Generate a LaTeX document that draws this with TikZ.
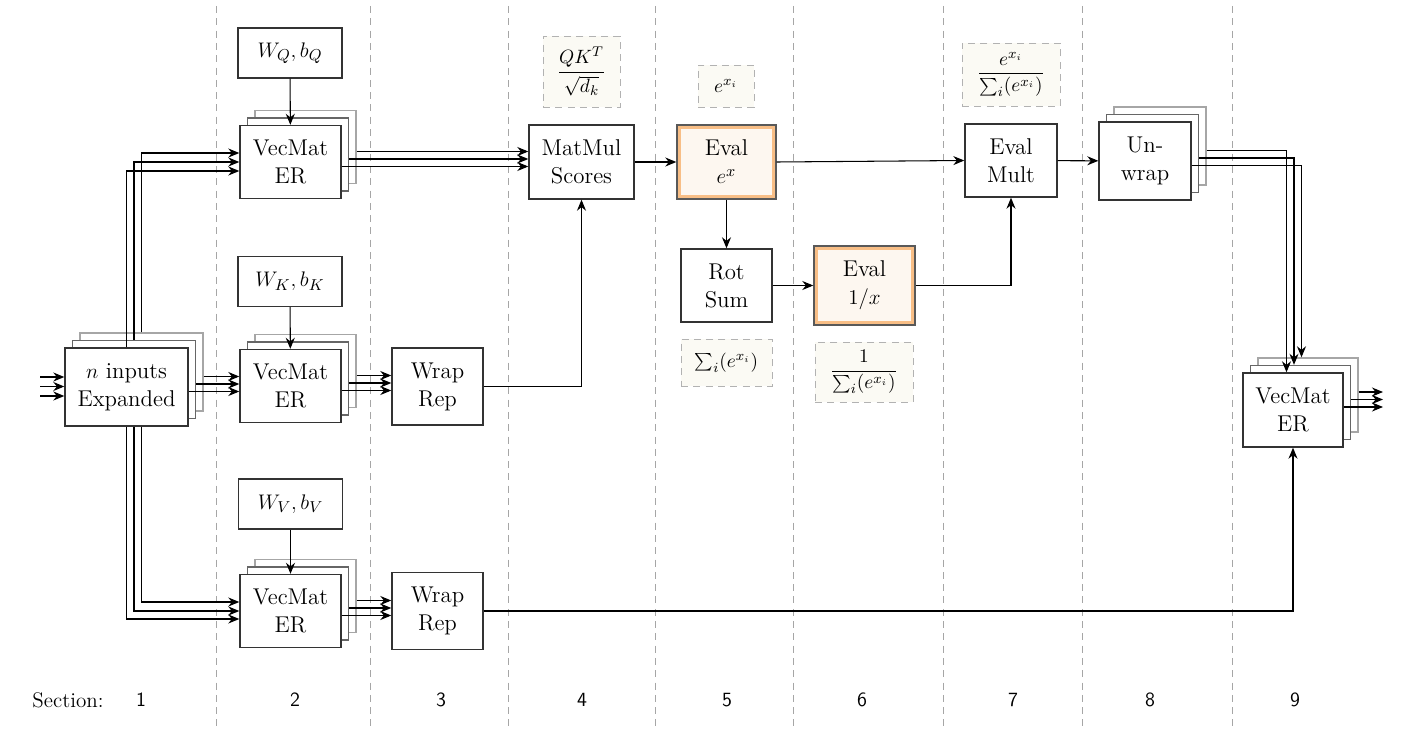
\documentclass[tikz,border=0pt]{standalone}
\usepackage{tikz}
\usetikzlibrary{calc,arrows.meta}
\definecolor{notefill}{HTML}{FBFAF4}
\definecolor{evalfill}{HTML}{FDF7F0}
\definecolor{evalring}{HTML}{F8BE86}
\tikzset{
	blk/.style={draw=black!80, fill=white, line width=0.8pt, align=center, inner sep=0pt, font=\fontsize{13}{16}\selectfont},
	note/.style={draw=black!30, dash pattern=on 4pt off 3pt, fill=notefill, inner sep=0pt, font=\fontsize{11}{13}\selectfont},
	evalblk/.style={blk, fill=evalfill, draw=black!65, path picture={\draw[evalring, line width=4pt] (path picture bounding box.south west) rectangle (path picture bounding box.north east);}},
	wire/.style={line width=0.6pt, -{Stealth[length=2.2mm,width=1.8mm]}},
	sep/.style={black!35, dash pattern=on 4pt off 3pt},
}
\def\stackbox(#1)(#2)#3#4{%
	\node[blk, draw=black!35, #3] (#1-3) at ($(#2)+(0.3,0.3)$) {};
	\node[blk, draw=black!60, #3] (#1-2) at ($(#2)+(0.15,0.15)$) {};
	\node[blk, #3] (#1) at (#2) {#4};
}

\begin{document}
\begin{tikzpicture}
		%%%%% START %%%%%
		\useasboundingbox (0,0) rectangle (28.42,-15.04);
		
		\foreach \x in {4.32,7.40,10.16,13.10,15.86,18.86,21.64,24.64}
			\draw[sep] (\x,-0.12) -- (\x,-14.52);
		
		% section row
		\node[font=\fontsize{12}{14}\selectfont] (sec) at (1.36,-14.0) {Section:};
		\foreach \n/\x in {1/2.82,2/5.90,3/8.82,4/11.64,5/14.54,6/17.24,7/20.26,8/23.0,9/25.9}
			\node[font=\sffamily\fontsize{11.5}{13}\selectfont] (sec-\n) at (\x,-14.0) {\n};
		
		% stacked blocks
		\stackbox(in)(2.53,-7.74){minimum width=2.46cm, minimum height=1.56cm}{$n$ inputs\\Expanded}
		\stackbox(vq)(5.81,-3.24){minimum width=2.02cm, minimum height=1.46cm}{VecMat\\ER}
		\stackbox(vk)(5.81,-7.72){minimum width=2.02cm, minimum height=1.46cm}{VecMat\\ER}
		\stackbox(vv)(5.81,-12.22){minimum width=2.02cm, minimum height=1.46cm}{VecMat\\ER}
		\stackbox(un)(22.90,-3.22){minimum width=1.84cm, minimum height=1.56cm}{Un-\\wrap}
		\stackbox(vo)(25.86,-8.20){minimum width=2.0cm, minimum height=1.48cm}{VecMat\\ER}
		
		% weights
		\node[blk, minimum width=2.08cm, minimum height=1.0cm] (wq) at (5.80,-1.06) {$W_Q, b_Q$};
		\node[blk, minimum width=2.08cm, minimum height=1.0cm] (wk) at (5.80,-5.63) {$W_K, b_K$};
		\node[blk, minimum width=2.08cm, minimum height=1.0cm] (wv) at (5.81,-10.08) {$W_V, b_V$};
		
		% single blocks
		\node[blk, minimum width=1.82cm, minimum height=1.54cm] (rk) at (8.75,-7.73) {Wrap\\Rep};
		\node[blk, minimum width=1.82cm, minimum height=1.54cm] (rv) at (8.75,-12.22) {Wrap\\Rep};
		\node[blk, minimum width=2.1cm, minimum height=1.48cm] (mm) at (11.63,-3.24) {MatMul\\Scores};
		\node[evalblk, minimum width=1.98cm, minimum height=1.48cm] (ex) at (14.53,-3.24) {Eval\\$e^x$};
		\node[blk, minimum width=1.82cm, minimum height=1.46cm] (rs) at (14.53,-5.71) {Rot\\Sum};
		\node[evalblk, minimum width=2.02cm, minimum height=1.58cm] (inv) at (17.29,-5.71) {Eval\\$1/x$};
		\node[blk, minimum width=1.84cm, minimum height=1.46cm] (mult) at (20.22,-3.21) {Eval\\Mult};
		
		% notes
		\node[note, minimum width=1.54cm, minimum height=1.42cm] (nqk) at (11.63,-1.43) {$\displaystyle\frac{QK^T}{\sqrt{d_k}\rule{0pt}{10pt}}$};
		\node[note, minimum width=1.12cm, minimum height=0.84cm] (nex) at (14.52,-1.72) {$e^{x_i}$};
		\node[note, minimum width=1.82cm, minimum height=0.94cm] (nsum) at (14.53,-7.25) {$\sum_i(e^{x_i})$};
		\node[note, minimum width=1.96cm, minimum height=1.2cm] (ninv) at (17.28,-7.44) {$\displaystyle\frac{1}{\sum_i(e^{x_i})}$};
		\node[note, minimum width=1.96cm, minimum height=1.26cm] (nsm) at (20.22,-1.49) {$\displaystyle\frac{e^{x_i}}{\sum_i(e^{x_i})}$};
		
		% inputs
		\coordinate (src) at (0.8,-7.74);
		\coordinate (out) at (27.66,-8.20);
		\foreach \dy in {0.2,0.01,-0.18}
			\draw[wire] ([yshift=\dy cm]in.west -| src) -- ([yshift=\dy cm]in.west);
		
		\draw[wire] (in-3.north) |- ([yshift=0.18cm]vq.west);
		\draw[wire] (in-2.north) |- (vq.west);
		\draw[wire] (in.north) |- ([yshift=-0.18cm]vq.west);
		
		\draw[wire] (in-3.south |- in.south) |- ([yshift=0.18cm]vv.west);
		\draw[wire] (in-2.south |- in.south) |- (vv.west);
		\draw[wire] (in.south) |- ([yshift=-0.16cm]vv.west);
		
		\foreach \s in {in-3,in-2,in}
			\draw[wire] ([yshift=-0.09cm]\s.east) -- ([yshift=-0.09cm]\s.east -| vk.west);
		\foreach \s in {vq-3,vq-2,vq}
			\draw[wire] ([yshift=-0.09cm]\s.east) -- ([yshift=-0.09cm]\s.east -| mm.west);
		\foreach \s in {vk-3,vk-2,vk}
			\draw[wire] ([yshift=-0.09cm]\s.east) -- ([yshift=-0.09cm]\s.east -| rk.west);
		\foreach \s in {vv-3,vv-2,vv}
			\draw[wire] ([yshift=-0.09cm]\s.east) -- ([yshift=-0.09cm]\s.east -| rv.west);
		
		\draw[wire] (wq) -- (vq);
		\draw[wire] (wk) -- (vk);
		\draw[wire] (wv) -- (vv);
		
		\draw[wire] (rk.east) -| (mm.south);
		\draw[wire] (rv.east) -| (vo.south);
		\draw[wire] (mm) -- (ex);
		\draw[wire] (ex) -- (rs);
		\draw[wire] (rs) -- (inv);
		\draw[wire] (inv.east) -| (mult.south);
		\draw[wire] (ex.east) -- (mult.west);
		\draw[wire] (mult) -- (un);
		
		\draw[wire] ([yshift=-0.09cm]un-3.east) -| ([xshift=-0.13cm]vo.north);
		\draw[wire] ([yshift=-0.09cm]un-2.east) -| ([xshift=-0.13cm]vo-2.north);
		\draw[wire] ([yshift=-0.09cm]un.east) -| ([xshift=-0.13cm]vo-3.north);
		
		\foreach \s in {vo-3,vo-2,vo}
			\draw[wire] ([yshift=0.06cm]\s.east) -- ([yshift=0.06cm]\s.east -| out);
		%%%%% END %%%%%
\end{tikzpicture}
\end{document}
